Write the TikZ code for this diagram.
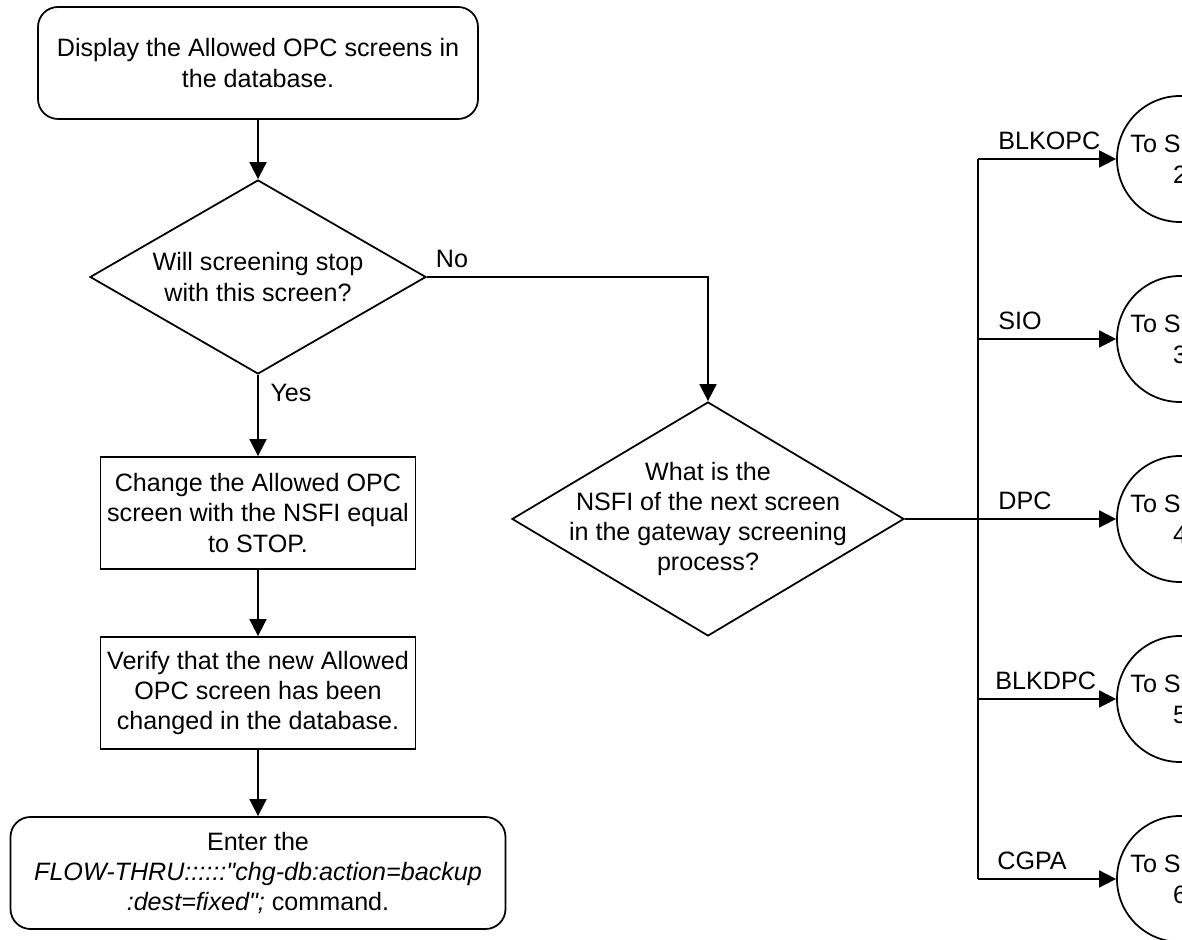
\documentclass[tikz,border=0pt]{standalone}
\usepackage{fontspec}
\setmainfont{Liberation Sans}
\usetikzlibrary{shapes.geometric,arrows.meta}
\tikzset{
  flowtxt/.style={font=\fontsize{14.3}{17.2}\selectfont,align=center},
  roundbox/.style={flowtxt,draw,line width=1pt,rounded corners=0.4cm,minimum height=2.24cm,inner sep=0pt},
  stepbox/.style={flowtxt,draw,line width=1pt,minimum width=6.3cm,minimum height=2.24cm,inner sep=0pt},
  decision/.style={diamond,draw,line width=1pt,inner sep=0pt},
  sheetref/.style={flowtxt,circle,draw,line width=1pt,minimum size=2.52cm,inner sep=0pt},
  branchlbl/.style={font=\fontsize{14.3}{17.2}\selectfont,anchor=west,inner sep=0pt},
  flowline/.style={line width=1pt},
  flowarrow/.style={line width=1pt,-{Triangle[length=0.34cm,width=0.34cm]}}
}

\begin{document}
\begin{tikzpicture}[x=1cm,y=1cm]
\clip (0,0) rectangle (23.64,18.80);
% left column
\node[roundbox,minimum width=8.8cm] (display) at (5.16,17.54) {Display the Allowed OPC screens in\\the database.};
\node[decision,minimum width=6.72cm,minimum height=3.88cm,label={[flowtxt]center:Will screening stop\\with this screen?}] (willstop) at (5.16,13.26) {};
\node[stepbox] (change) at (5.16,8.54) {Change the Allowed OPC\\screen with the NSFI equal\\to STOP.};
\node[stepbox] (verify) at (5.16,4.94) {Verify that the new Allowed\\OPC screen has been\\changed in the database.};
\node[roundbox,minimum width=9.9cm] (enter) at (5.16,1.34) {Enter the\\\textit{FLOW-THRU::::::\textquotedbl chg-db:action=backup}\\\textit{:dest=fixed\textquotedbl;} command.};
% next screen decision
\node[decision,minimum width=7.84cm,minimum height=4.68cm,label={[flowtxt]center:What is the\\NSFI of the next screen\\in the gateway screening\\process?}] (nsfi) at (14.16,8.42) {};
% off-sheet connectors
\node[sheetref] (sheet2) at (23.60,15.62) {To Sheet\\2};
\node[sheetref] (sheet3) at (23.60,12.02) {To Sheet\\3};
\node[sheetref] (sheet4) at (23.60,8.42) {To Sheet\\4};
\node[sheetref] (sheet5) at (23.60,4.82) {To Sheet\\5};
\node[sheetref] (sheet6) at (23.60,1.22) {To Sheet\\6};
\coordinate (bus) at (19.56,8.42);

\draw[flowarrow] (display) -- (willstop);
\draw[flowarrow] (willstop) -- (change);
\node[flowtxt] (yes) at (5.82,10.94) {Yes};
\draw[flowarrow] (willstop.east) -| (nsfi.north);
\node[flowtxt] (no) at (9.04,13.62) {No};
\draw[flowarrow] (change) -- (verify);
\draw[flowarrow] (verify) -- (enter);

\draw[flowline] (nsfi.east) -- (bus);
\draw[flowline] (sheet2.west -| bus) -- (sheet6.west -| bus);
\draw[flowarrow] (sheet2.west -| bus) -- (sheet2.west);
\node[branchlbl] (blkopc) at (19.96,15.98) {BLKOPC};
\draw[flowarrow] (sheet3.west -| bus) -- (sheet3.west);
\node[branchlbl] (sio) at (19.96,12.38) {SIO};
\draw[flowarrow] (sheet4.west -| bus) -- (sheet4.west);
\node[branchlbl] (dpc) at (19.96,8.78) {DPC};
\draw[flowarrow] (sheet5.west -| bus) -- (sheet5.west);
\node[branchlbl] (blkdpc) at (19.90,5.18) {BLKDPC};
\draw[flowarrow] (sheet6.west -| bus) -- (sheet6.west);
\node[branchlbl] (cgpa) at (19.94,1.58) {CGPA};
\end{tikzpicture}
\end{document}
